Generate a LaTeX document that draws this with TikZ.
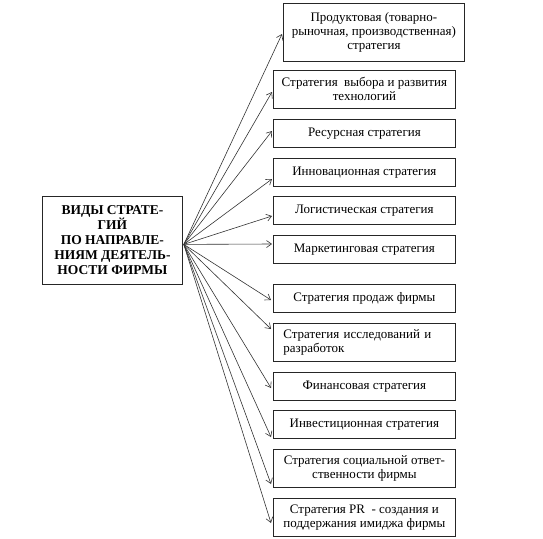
\documentclass[tikz,border=0pt]{standalone}
\usepackage{fontspec}
\setmainfont{Liberation Serif}
\usetikzlibrary{arrows.meta,calc}
\begin{document}
\begin{tikzpicture}[x=1pt,y=-1pt,
  box/.style={draw=black!85,line width=0.8pt,inner sep=0pt,anchor=north west,
    minimum width=182pt,align=center,font=\fontsize{13}{14}\selectfont},
  mainbox/.style={draw=black!85,line width=0.8pt,inner sep=0pt,anchor=north west,
    minimum width=140pt,minimum height=88pt,align=center,font=\bfseries\fontsize{13.5}{15}\selectfont},
  arr/.style={draw=black!80,line width=0.6pt,-{Straight Barb[length=5pt,width=7pt]}}]
\useasboundingbox (0,0) rectangle (543,538);
\node[mainbox] (main) at (42,196) {ВИДЫ СТРАТЕ-\\ГИЙ\\ПО НАПРАВЛЕ-\\НИЯМ ДЕЯТЕЛЬ-\\НОСТИ ФИРМЫ};
\node[box,minimum width=181pt,minimum height=58pt] (b1) at (283,3) {Продуктовая (товарно-\\рыночная, производственная)\\стратегия};
\node[box,minimum height=38pt] (b2) at (273,70) {Стратегия\ \ выбора и развития\\технологий};
\node[box,minimum height=28pt] (b3) at (273,119) {Ресурсная стратегия};
\node[box,minimum height=28pt] (b4) at (273,158) {Инновационная стратегия};
\node[box,minimum height=28pt] (b5) at (273,196) {Логистическая стратегия};
\node[box,minimum height=28pt] (b6) at (273,235) {Маркетинговая стратегия};
\node[box,minimum height=28pt] (b7) at (273,284) {Стратегия продаж фирмы};
\node[box,minimum height=38pt,inner xsep=10pt,minimum width=182pt,text width=162pt,align=left] (b8) at (273,323) {Стратегия исследований и\\разработок};
\node[box,minimum height=28pt] (b9) at (273,372) {Финансовая стратегия};
\node[box,minimum height=28pt] (b10) at (273,410) {Инвестиционная стратегия};
\node[box,minimum height=38pt] (b11) at (273,449) {Стратегия социальной ответ-\\ственности фирмы};
\node[box,minimum height=38pt] (b12) at (273,498) {Стратегия PR\ \ - создания и\\поддержания имиджа фирмы};
\coordinate (src) at ($(main.east)+(1,4)$);
\draw[arr] (src) -- ($(b1.north west)+(-1,31)$);
\draw[arr] (src) -- ($(b2.north west)+(-1,22)$);
\draw[arr] (src) -- ($(b3.north west)+(-1,12)$);
\draw[arr] (src) -- ($(b4.north west)+(-1,21)$);
\draw[arr] (src) -- ($(b5.north west)+(-1,20)$);
\draw[arr] (src) -- ($(b6.north west)+(-1,9)$);
\draw[arr] (src) -- ($(b7.north west)+(-2,16)$);
\draw[arr] (src) -- ($(b8.north west)+(-2,6)$);
\draw[arr] (src) -- ($(b9.north west)+(-2,16)$);
\draw[arr] (src) -- ($(b10.north west)+(-2,27)$);
\draw[arr] (src) -- ($(b11.north west)+(-2,35)$);
\draw[arr] (src) -- ($(b12.north west)+(-2,25)$);
\end{tikzpicture}
\end{document}
